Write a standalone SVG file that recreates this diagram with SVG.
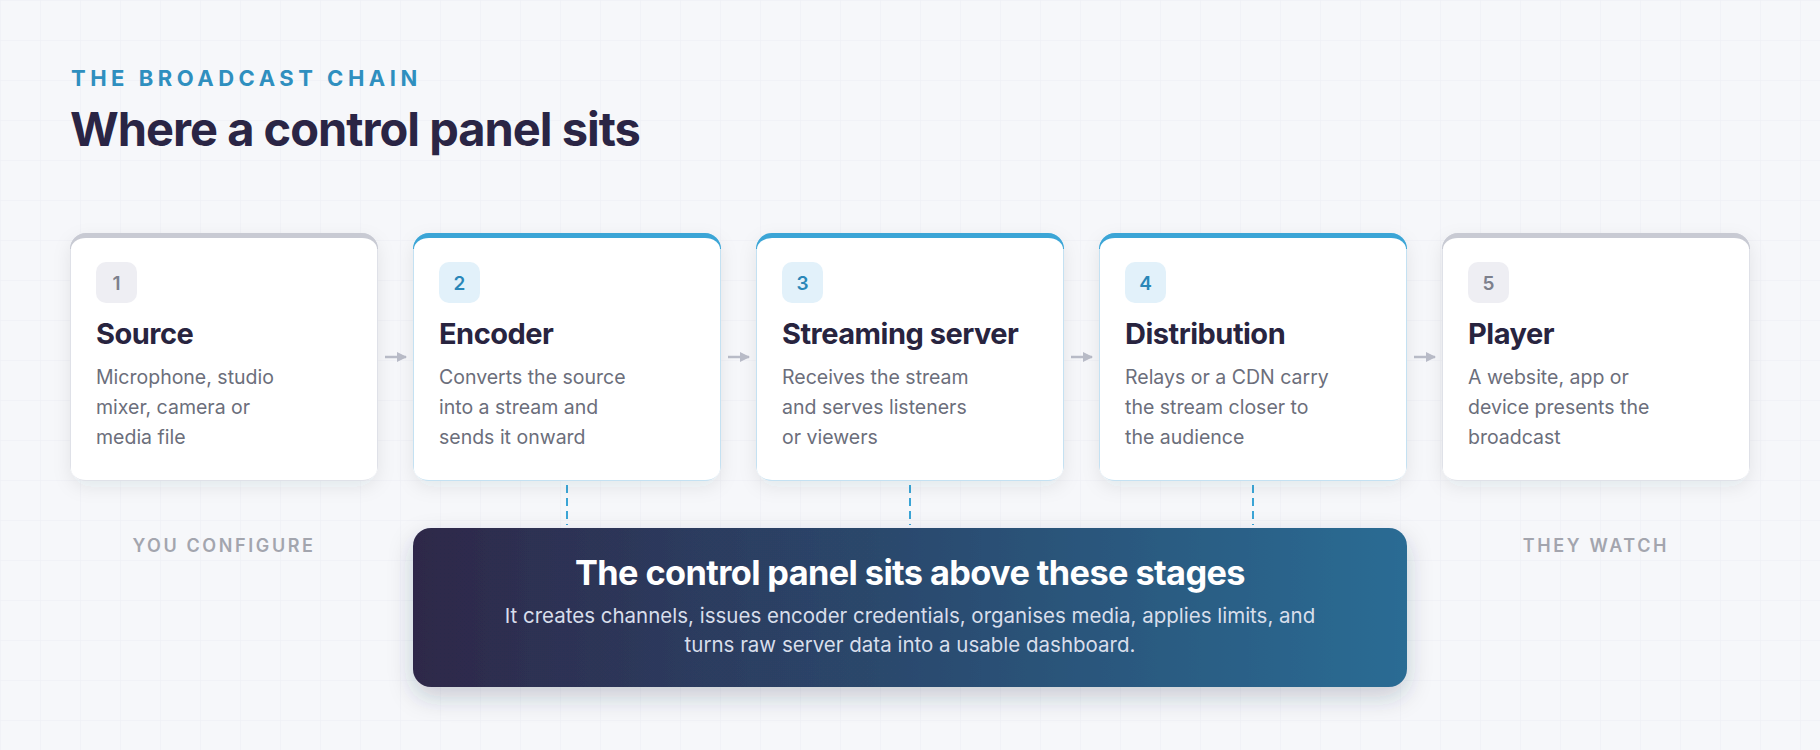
<svg xmlns="http://www.w3.org/2000/svg" width="1820" height="750" viewBox="0 0 1820 750">
  <defs>
    <pattern id="grid" width="40" height="40" patternUnits="userSpaceOnUse">
      <path d="M40 0 L0 0 L0 40" fill="none" stroke="#eceef3" stroke-width="1"/>
    </pattern>
    <linearGradient id="panelGrad" x1="0" y1="0" x2="1" y2="0">
      <stop offset="0" stop-color="#2d2849"/>
      <stop offset="1" stop-color="#2b6c94"/>
    </linearGradient>
    <clipPath id="cardClip">
      <rect x="0" y="0" width="308" height="248" rx="16"/>
    </clipPath>
    <filter id="cardShadow" x="-20%" y="-20%" width="140%" height="150%">
      <feDropShadow dx="0" dy="6" stdDeviation="9" flood-color="#2a2f4a" flood-opacity="0.08"/>
    </filter>
    <filter id="panelShadow" x="-10%" y="-30%" width="120%" height="170%">
      <feDropShadow dx="0" dy="10" stdDeviation="12" flood-color="#2a2f4a" flood-opacity="0.22"/>
    </filter>
    <marker id="arrowHead" viewBox="0 0 10 10" refX="9" refY="5" markerWidth="10" markerHeight="12" markerUnits="userSpaceOnUse" orient="auto">
      <path d="M0 0 L10 5 L0 10 Z" fill="#b9bcc8"/>
    </marker>
    <style>
      .eyebrow { font-family: Inter, "Liberation Sans", sans-serif; font-weight: 700; font-size: 22px; letter-spacing: 4.5px; fill: #2f8fbf; }
      .heading { font-family: Inter, "Liberation Sans", sans-serif; font-weight: 700; font-size: 47px; letter-spacing: -1px; fill: #2a2545; }
      .cardbase-active { fill: #c4e1f2; }
      .cardbase-idle { fill: #dfe1e8; }
      .bar-active { fill: #3ba5d6; }
      .bar-idle { fill: #c8cad3; }
      .card-inner { fill: #ffffff; }
      .badge-active { fill: #e2f1fa; }
      .badge-idle { fill: #eeeef3; }
      .num { font-family: Inter, "Liberation Sans", sans-serif; font-weight: 600; font-size: 19px; text-anchor: middle; }
      .num-active { fill: #2a87b8; }
      .num-idle { fill: #7d808c; }
      .card-title { font-family: Inter, "Liberation Sans", sans-serif; font-weight: 700; font-size: 29px; letter-spacing: -0.5px; fill: #28243f; }
      .card-desc { font-family: Inter, "Liberation Sans", sans-serif; font-weight: 400; font-size: 19.5px; fill: #6b6e7b; }
      .side-label { font-family: Inter, "Liberation Sans", sans-serif; font-weight: 600; font-size: 18px; letter-spacing: 2.6px; fill: #a3a5ae; text-anchor: middle; }
      .arrow { stroke: #b9bcc8; stroke-width: 2.5; fill: none; }
      .dash { stroke: #3ba5d6; stroke-width: 2; stroke-dasharray: 8 5; fill: none; }
      .panel-title { font-family: Inter, "Liberation Sans", sans-serif; font-weight: 700; font-size: 34.3px; letter-spacing: -0.6px; fill: #ffffff; text-anchor: middle; }
      .panel-text { font-family: Inter, "Liberation Sans", sans-serif; font-weight: 400; font-size: 20.5px; fill: #d8deeb; text-anchor: middle; }
    </style>
  </defs>

  <rect x="0" y="0" width="1820" height="750" fill="#f6f7fa"/>
  <rect x="0" y="0" width="1820" height="750" fill="url(#grid)"/>

  <g id="header">
    <text class="eyebrow" x="71" y="86">THE BROADCAST CHAIN</text>
    <text class="heading" x="70" y="146">Where a control panel sits</text>
  </g>

  <g id="connectors">
    <line class="arrow" x1="385" y1="357" x2="406" y2="357" marker-end="url(#arrowHead)"/>
    <line class="arrow" x1="728" y1="357" x2="749" y2="357" marker-end="url(#arrowHead)"/>
    <line class="arrow" x1="1071" y1="357" x2="1092" y2="357" marker-end="url(#arrowHead)"/>
    <line class="arrow" x1="1414" y1="357" x2="1435" y2="357" marker-end="url(#arrowHead)"/>
    <line class="dash" x1="567" y1="485" x2="567" y2="525"/>
    <line class="dash" x1="910" y1="485" x2="910" y2="525"/>
    <line class="dash" x1="1253" y1="485" x2="1253" y2="525"/>
  </g>

  <g id="card-1" transform="translate(70,233)">
    <rect class="cardbase-idle" width="308" height="248" rx="16" filter="url(#cardShadow)"/>
    <rect class="bar-idle" width="308" height="16" clip-path="url(#cardClip)"/>
    <rect class="card-inner" x="1" y="5" width="306" height="242" rx="15" ry="11"/>
    <rect class="badge-idle" x="26" y="29" width="41" height="41" rx="10"/>
    <text class="num num-idle" x="46.5" y="56.5">1</text>
    <text class="card-title" x="26" y="111">Source</text>
    <text class="card-desc" x="26" y="151">Microphone, studio</text>
    <text class="card-desc" x="26" y="181">mixer, camera or</text>
    <text class="card-desc" x="26" y="211">media file</text>
  </g>

  <g id="card-2" transform="translate(413,233)">
    <rect class="cardbase-active" width="308" height="248" rx="16" filter="url(#cardShadow)"/>
    <rect class="bar-active" width="308" height="16" clip-path="url(#cardClip)"/>
    <rect class="card-inner" x="1" y="5" width="306" height="242" rx="15" ry="11"/>
    <rect class="badge-active" x="26" y="29" width="41" height="41" rx="10"/>
    <text class="num num-active" x="46.5" y="56.5">2</text>
    <text class="card-title" x="26" y="111">Encoder</text>
    <text class="card-desc" x="26" y="151">Converts the source</text>
    <text class="card-desc" x="26" y="181">into a stream and</text>
    <text class="card-desc" x="26" y="211">sends it onward</text>
  </g>

  <g id="card-3" transform="translate(756,233)">
    <rect class="cardbase-active" width="308" height="248" rx="16" filter="url(#cardShadow)"/>
    <rect class="bar-active" width="308" height="16" clip-path="url(#cardClip)"/>
    <rect class="card-inner" x="1" y="5" width="306" height="242" rx="15" ry="11"/>
    <rect class="badge-active" x="26" y="29" width="41" height="41" rx="10"/>
    <text class="num num-active" x="46.5" y="56.5">3</text>
    <text class="card-title" x="26" y="111">Streaming server</text>
    <text class="card-desc" x="26" y="151">Receives the stream</text>
    <text class="card-desc" x="26" y="181">and serves listeners</text>
    <text class="card-desc" x="26" y="211">or viewers</text>
  </g>

  <g id="card-4" transform="translate(1099,233)">
    <rect class="cardbase-active" width="308" height="248" rx="16" filter="url(#cardShadow)"/>
    <rect class="bar-active" width="308" height="16" clip-path="url(#cardClip)"/>
    <rect class="card-inner" x="1" y="5" width="306" height="242" rx="15" ry="11"/>
    <rect class="badge-active" x="26" y="29" width="41" height="41" rx="10"/>
    <text class="num num-active" x="46.5" y="56.5">4</text>
    <text class="card-title" x="26" y="111">Distribution</text>
    <text class="card-desc" x="26" y="151">Relays or a CDN carry</text>
    <text class="card-desc" x="26" y="181">the stream closer to</text>
    <text class="card-desc" x="26" y="211">the audience</text>
  </g>

  <g id="card-5" transform="translate(1442,233)">
    <rect class="cardbase-idle" width="308" height="248" rx="16" filter="url(#cardShadow)"/>
    <rect class="bar-idle" width="308" height="16" clip-path="url(#cardClip)"/>
    <rect class="card-inner" x="1" y="5" width="306" height="242" rx="15" ry="11"/>
    <rect class="badge-idle" x="26" y="29" width="41" height="41" rx="10"/>
    <text class="num num-idle" x="46.5" y="56.5">5</text>
    <text class="card-title" x="26" y="111">Player</text>
    <text class="card-desc" x="26" y="151">A website, app or</text>
    <text class="card-desc" x="26" y="181">device presents the</text>
    <text class="card-desc" x="26" y="211">broadcast</text>
  </g>

  <g id="label-configure">
    <text class="side-label" x="224" y="552">YOU CONFIGURE</text>
  </g>
  <g id="label-watch">
    <text class="side-label" x="1596" y="552">THEY WATCH</text>
  </g>

  <g id="control-panel">
    <rect x="413" y="528" width="994" height="159" rx="18" fill="url(#panelGrad)" filter="url(#panelShadow)"/>
    <text class="panel-title" x="910" y="585">The control panel sits above these stages</text>
    <text class="panel-text" x="910" y="623">It creates channels, issues encoder credentials, organises media, applies limits, and</text>
    <text class="panel-text" x="910" y="652">turns raw server data into a usable dashboard.</text>
  </g>
</svg>
